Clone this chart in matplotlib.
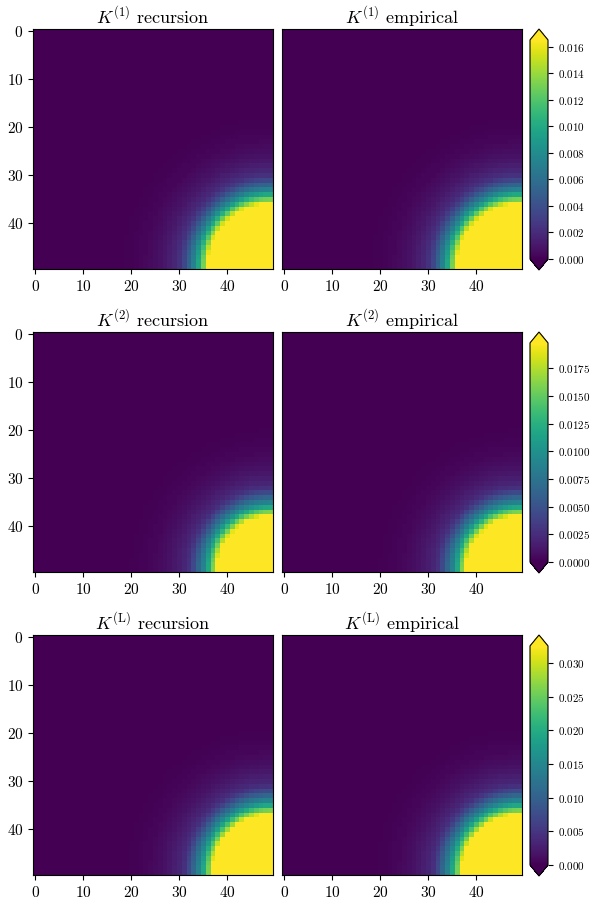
import numpy as np
import matplotlib
matplotlib.use("Agg")
import matplotlib.pyplot as plt

plt.rcParams['font.family'] = 'serif'
plt.rcParams['font.serif'] = ['cmr10']
plt.rcParams['mathtext.fontset'] = 'cm'
plt.rcParams['axes.formatter.use_mathtext'] = True

# kernel value read along the last row, by distance (in cells) from the corner (49, 49)
radius = [0, 4, 8, 10, 11, 12, 13, 14, 15, 16, 17, 18, 19, 20, 21, 22, 23, 24, 25, 26, 28, 30, 33, 36, 70]
k1_profile = [0.099, 0.066, 0.043, 0.031, 0.026, 0.021, 0.0173, 0.0132, 0.0099, 0.0073, 0.0054,
              0.0036, 0.0024, 0.0018, 0.0014, 0.00107, 0.00083, 0.00063, 0.00046, 0.00033,
              0.00017, 0.00008, 0.00002, 0.0, 0.0]
k2_profile = [0.110, 0.072, 0.045, 0.031, 0.0205, 0.0160, 0.0120, 0.0088, 0.0066, 0.0044,
              0.0028, 0.0021, 0.0016, 0.0013, 0.0010, 0.00075, 0.00056, 0.00042, 0.00031,
              0.00022, 0.00011, 0.00005, 0.00001, 0.0, 0.0]
kL_profile = [0.190, 0.125, 0.078, 0.055, 0.045, 0.034, 0.026, 0.0195, 0.0145, 0.0108, 0.0072,
              0.0046, 0.0034, 0.0027, 0.0021, 0.0016, 0.0012, 0.0009, 0.00066, 0.00048,
              0.00024, 0.00011, 0.00003, 0.0, 0.0]

# colour limits of each row
vmins = [0.0, 0.0, 0.0]
vmaxs = [0.0165, 0.0198, 0.0325]
row_names = ['1', '2', 'L']

n = 50
idx = np.arange(n)
dist = np.hypot((n - 1) - idx[:, None], (n - 1) - idx[None, :])

matrices = [np.interp(dist, radius, p) for p in (k1_profile, k2_profile, kL_profile)]

fig = plt.figure(figsize=(5.94, 9.21), dpi=100)

W, H = 594.0, 921.0
row_tops = [29, 332, 635]
ax_w = 240
ax_h = 240

for r in range(3):
    top = row_tops[r]
    bottom = 1 - (top + ax_h) / H
    for c, kind in enumerate(['recursion', 'empirical']):
        left = [33, 282][c] / W
        ax = fig.add_axes([left, bottom, ax_w / W, ax_h / H])
        im = ax.imshow(matrices[r], cmap='viridis', vmin=vmins[r], vmax=vmaxs[r],
                       interpolation='nearest', aspect='auto')
        ax.set_title(r'$K^{(\mathrm{' + row_names[r] + r'})}$ ' + kind, fontsize=13, pad=4)
        ax.set_xticks([0, 10, 20, 30, 40])
        ax.tick_params(labelsize=11)
        if c == 0:
            ax.set_yticks([0, 10, 20, 30, 40])
        else:
            ax.set_yticks([])

    cax = fig.add_axes([530 / W, 1 - (top + ax_h + 1) / H, 18 / W, (ax_h + 1) / H])
    cb = fig.colorbar(im, cax=cax, extend='both')
    cb.ax.tick_params(labelsize=8)

fig.savefig('out.png', dpi=100)
